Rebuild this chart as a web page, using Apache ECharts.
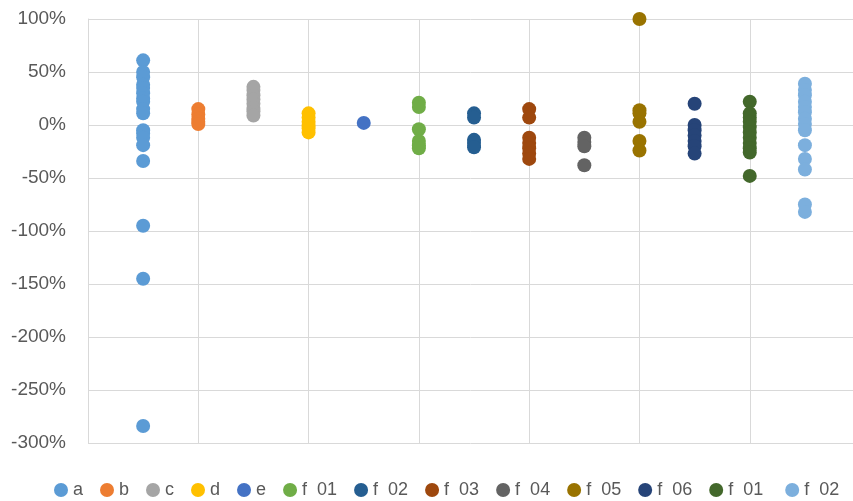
<!DOCTYPE html>
<html>
<head>
<meta charset="utf-8">
<script src="https://cdn.jsdelivr.net/npm/echarts@6/dist/echarts.min.js"></script>
<style>
  html, body { margin: 0; padding: 0; background: #fff; }
  #chart { width: 853px; height: 501px; }
</style>
</head>
<body>
<div id="chart"></div>
<script>
// series names, colours and values (percent)
const names = ['a', 'b', 'c', 'd', 'e', 'f  01', 'f  02', 'f  03', 'f  04', 'f  05', 'f  06', 'f  01 ', 'f  02 ']
const colors = ['#5B9BD5', '#ED7D31', '#A5A5A5', '#FFC000', '#4472C4', '#70AD47', '#255E91',
  '#9E480E', '#636363', '#997300', '#264478', '#43682B', '#7CAFDD']

const aVals = [61, 50, 45, 38, 35, 30, 25, 22, 15, 11, -5, -8, -12, -19, -34, -95, -145, -284]
const bVals = [15, 10, 6, 3, 1]
const cVals = [36, 33, 28, 24, 20, 16, 13, 9]
const dVals = [11, 7, 3, 0, -3, -7]
const eVals = [2]
const f01Vals = [21, 17, -4, -15, -19, -22]
const f02Vals = [11, 7, -14, -17, -21]
const f03Vals = [15, 7, -12, -17, -22, -27, -32]
const f04Vals = [-12, -16, -20, -38]
const f05Vals = [100, 14, 11, 3, -15, -24]
const f06Vals = [20, 0, -5, -10, -15, -20, -27]
const f01bVals = [22, 11, 7, 3, -2, -7, -12, -17, -22, -26, -48]
const f02bVals = [39, 33, 28, 22, 17, 12, 6, 1, -5, -19, -32, -42, -75, -82]

const allVals = [aVals, bVals, cVals, dVals, eVals, f01Vals, f02Vals, f03Vals,
  f04Vals, f05Vals, f06Vals, f01bVals, f02bVals]

const chart = echarts.init(document.getElementById('chart'))
const font = 'Liberation Sans'

const series = allVals.map((vals, i) => {
  return {
    name: names[i],
    type: 'scatter',
    symbolSize: 14,
    itemStyle: { color: colors[i], opacity: 1 },
    data: vals.map(v => [0.5 * (i + 1), v])
  }
})

const option = {
  animation: false,
  textStyle: { fontFamily: font },
  grid: {
    left: 88,
    right: 0,
    top: 19,
    bottom: 58
  },
  xAxis: {
    type: 'value',
    min: 0,
    max: 6.936,
    interval: 1,
    axisLine: { show: false },
    axisTick: { show: false },
    axisLabel: { show: false },
    splitLine: { lineStyle: { color: '#D9D9D9', width: 1 } }
  },
  yAxis: {
    type: 'value',
    min: -300,
    max: 100,
    interval: 50,
    axisLine: { show: true, lineStyle: { color: '#D9D9D9' } },
    axisTick: { show: false },
    axisLabel: {
      formatter: '{value}%',
      color: '#595959',
      fontSize: 19,
      fontFamily: font,
      margin: 22
    },
    splitLine: { lineStyle: { color: '#D9D9D9', width: 1 } }
  },
  legend: {
    bottom: 2,
    left: 54,
    padding: 0,
    icon: 'circle',
    itemWidth: 14,
    itemHeight: 14,
    itemGap: 17,
    textStyle: { color: '#595959', fontSize: 18, fontFamily: font },
    data: names
  },
  series: series
}
chart.setOption(option)
</script>
</body>
</html>
